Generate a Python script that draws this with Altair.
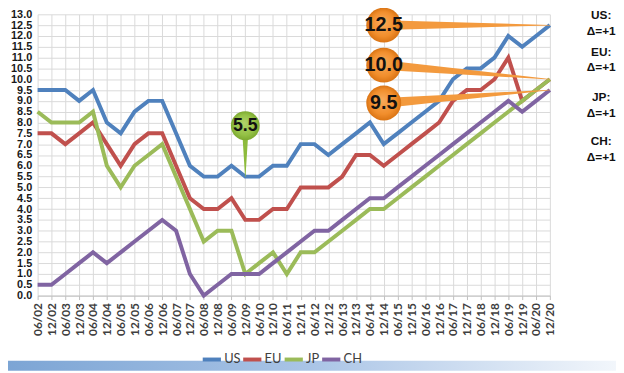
import altair as alt
import pandas as pd

labels = ["06/02", "12/02", "06/03", "12/03", "06/04", "12/04", "06/05", "12/05",
          "06/06", "12/06", "06/07", "12/07", "06/08", "12/08", "06/09", "12/09",
          "06/10", "12/10", "06/11", "12/11", "06/12", "12/12", "06/13", "12/13",
          "06/14", "12/14", "06/15", "12/15", "06/16", "12/16", "06/17", "12/17",
          "06/18", "12/18", "06/19", "12/19", "06/20", "12/20"]

us = [9.5, 9.5, 9.5, 9.0, 9.5, 8.0, 7.5, 8.5, 9.0, 9.0,
      7.5, 6.0, 5.5, 5.5, 6.0, 5.5, 5.5, 6.0, 6.0, 7.0,
      7.0, 6.5, 7.0, 7.5, 8.0, 7.0, 7.5, 8.0, 8.5, 9.0,
      10.0, 10.5, 10.5, 11.0, 12.0, 11.5, 12.0, 12.5]
eu = [7.5, 7.5, 7.0, 7.5, 8.0, 7.0, 6.0, 7.0, 7.5, 7.5,
      6.0, 4.5, 4.0, 4.0, 4.5, 3.5, 3.5, 4.0, 4.0, 5.0,
      5.0, 5.0, 5.5, 6.5, 6.5, 6.0, 6.5, 7.0, 7.5, 8.0,
      9.0, 9.5, 9.5, 10.0, 11.0, 9.0, 9.5, 10.0]
jp = [8.5, 8.0, 8.0, 8.0, 8.5, 6.0, 5.0, 6.0, 6.5, 7.0,
      5.5, 4.0, 2.5, 3.0, 3.0, 1.0, 1.5, 2.0, 1.0, 2.0,
      2.0, 2.5, 3.0, 3.5, 4.0, 4.0, 4.5, 5.0, 5.5, 6.0,
      6.5, 7.0, 7.5, 8.0, 8.5, 9.0, 9.5, 10.0]
ch = [0.5, 0.5, 1.0, 1.5, 2.0, 1.5, 2.0, 2.5, 3.0, 3.5,
      3.0, 1.0, 0.0, 0.5, 1.0, 1.0, 1.0, 1.5, 2.0, 2.5,
      3.0, 3.0, 3.5, 4.0, 4.5, 4.5, 5.0, 5.5, 6.0, 6.5,
      7.0, 7.5, 8.0, 8.5, 9.0, 8.5, 9.0, 9.5]

series_names = ["US", "EU", "JP", "CH"]
series_colors = ["#4F81BD", "#C0504D", "#9BBB59", "#8064A2"]
y_ticks = [i * 0.5 for i in range(27)]

# orange callouts (circle position -> series end)
callout_text = ["12.5", "10.0", "9.5"]
callout_x = ["12/14", "12/14", "12/14"]
callout_y = [12.5, 10.65, 8.9]
callout_target_x = ["12/20", "12/20", "12/20"]
callout_target_y = [12.5, 10.0, 9.5]

# green callout
green_text = ["5.5"]
green_x = ["12/09"]
green_y = [7.85]
green_target_y = [5.5]

# right-side notes
note_text = ["US:\nΔ=+1", "EU:\nΔ=+1", "JP:\nΔ=+1", "CH:\nΔ=+1"]
note_y = [13.2, 11.5, 9.4, 7.35]

rows = []
for name, vals in zip(series_names, [us, eu, jp, ch]):
    for i, (lab, v) in enumerate(zip(labels, vals)):
        rows.append({"label": lab, "series": name, "value": v, "idx": i})
df = pd.DataFrame(rows)

trail_rows = []
for k in range(len(callout_text)):
    trail_rows.append({"id": f"o{k}", "pt": 0, "label": callout_x[k], "value": callout_y[k], "w": 10})
    trail_rows.append({"id": f"o{k}", "pt": 1, "label": callout_target_x[k], "value": callout_target_y[k], "w": 0.5})
trail_df = pd.DataFrame(trail_rows)

green_trail_df = pd.DataFrame([
    {"id": "g", "pt": 0, "label": green_x[0], "value": green_y[0], "w": 7},
    {"id": "g", "pt": 1, "label": green_x[0], "value": green_target_y[0], "w": 0.5},
])
circ_df = pd.DataFrame({"label": callout_x, "value": callout_y, "text": callout_text})
green_df = pd.DataFrame({"label": green_x, "value": green_y, "text": green_text})
notes_df = pd.DataFrame({"value": note_y, "text": note_text})

W, H = 519, 285

xscale = alt.Scale(type="point", domain=labels, padding=0)
yscale = alt.Scale(domain=[0, 13], nice=False, zero=True)

x_axis = alt.Axis(title=None, labelAngle=-90, grid=True, gridColor="#D9D9D9",
                  gridWidth=1, domain=True, domainColor="#BFBFBF", ticks=True,
                  tickSize=4, tickColor="#BFBFBF", labelFont="Lato",
                  labelFontSize=12, labelFontWeight="bold", labelColor="#404040",
                  labelPadding=3, labelOverlap=False)
y_axis = alt.Axis(title=None, values=y_ticks, format=".1f", grid=True,
                  gridColor="#D9D9D9", gridWidth=1, domain=False, ticks=False,
                  labelFont="Liberation Sans", labelFontSize=11,
                  labelFontWeight="bold", labelColor="#1A1A1A", labelPadding=6,
                  labelOverlap=False, labelBound=False)

x_enc = alt.X("label:O", scale=xscale, sort=labels, axis=x_axis)
y_enc = alt.Y("value:Q", scale=yscale, axis=y_axis)

lines = alt.Chart(df).mark_line(strokeWidth=4).encode(
    x=x_enc, y=y_enc,
    color=alt.Color("series:N", scale=alt.Scale(domain=series_names, range=series_colors),
                    legend=alt.Legend(title=None, orient="none", legendX=165, legendY=338,
                                      direction="horizontal", symbolType="stroke",
                                      symbolStrokeWidth=4, symbolSize=340,
                                      labelFont="Lato", labelFontSize=13,
                                      labelColor="#404040", columnPadding=-10,
                                      labelOffset=1, padding=0)),
    order="idx:Q",
)

trails = alt.Chart(trail_df).mark_trail(color="#F39A3E").encode(
    x=x_enc, y=y_enc,
    size=alt.Size("w:Q", scale=None, legend=None),
    detail="id:N",
    order="pt:Q",
)
green_trail = alt.Chart(green_trail_df).mark_trail(color="#8DBB3C").encode(
    x=x_enc, y=y_enc,
    size=alt.Size("w:Q", scale=None, legend=None),
    detail="id:N",
    order="pt:Q",
)

orange_grad = {"gradient": "radial", "x1": 0.45, "y1": 0.4, "r1": 0, "x2": 0.5, "y2": 0.5, "r2": 0.5,
               "stops": [{"offset": 0, "color": "#F9AB5C"}, {"offset": 0.7, "color": "#F18E2C"},
                         {"offset": 1, "color": "#DA7414"}]}
green_grad = {"gradient": "radial", "x1": 0.45, "y1": 0.4, "r1": 0, "x2": 0.5, "y2": 0.5, "r2": 0.5,
              "stops": [{"offset": 0, "color": "#B2D46A"}, {"offset": 0.7, "color": "#94C146"},
                        {"offset": 1, "color": "#7DAA30"}]}

circles = alt.Chart(circ_df).mark_circle(size=1250, opacity=1, fill=orange_grad).encode(
    x=x_enc, y=y_enc,
)
circ_text = alt.Chart(circ_df).mark_text(font="Liberation Sans", fontSize=20,
                                         fontWeight="bold", color="#111111").encode(
    x=x_enc, y=y_enc,
    text="text:N",
)
green_circle = alt.Chart(green_df).mark_circle(size=850, opacity=1, fill=green_grad).encode(
    x=x_enc, y=y_enc,
)
green_label = alt.Chart(green_df).mark_text(font="Liberation Sans", fontSize=18,
                                            fontWeight="bold", color="#111111").encode(
    x=x_enc, y=y_enc,
    text="text:N",
)

notes = alt.Chart(notes_df).mark_text(font="Liberation Sans", fontSize=12, fontWeight="bold",
                                      color="#111111", lineBreak="\n", lineHeight=16,
                                      baseline="top", align="center").encode(
    x=alt.value(W + 52),
    y=y_enc,
    text="text:N",
)

band_grad = {"gradient": "linear", "x1": 0, "y1": 0, "x2": 1, "y2": 0,
             "stops": [{"offset": 0, "color": "#7BA4D4"}, {"offset": 0.5, "color": "#A9C4E6"},
                       {"offset": 1, "color": "#F2F6FB"}]}
band = alt.Chart(pd.DataFrame({"a": [0]})).mark_rect(fill=band_grad).encode(
    x=alt.value(-38), x2=alt.value(W + 67), y=alt.value(H + 66), y2=alt.value(H + 76),
)

chart = alt.layer(lines, trails, green_trail, circles, circ_text, green_circle,
                  green_label, notes, band).properties(
    width=W, height=H,
    autosize=alt.AutoSizeParams(type="none"),
    padding={"left": 30, "top": 4, "right": 67, "bottom": 76},
).configure_view(strokeWidth=0)

chart.save("out.html", embed_options={"renderer": "svg", "actions": False})
